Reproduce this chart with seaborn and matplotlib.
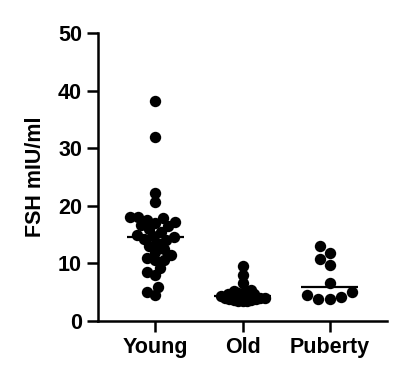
import matplotlib
matplotlib.use("Agg")
import matplotlib.pyplot as plt
import seaborn as sns
import pandas as pd
import numpy as np

# FSH values
groups = ["Young", "Old", "Puberty"]
young = [38.2, 32.0, 22.2, 20.6, 18.0, 18.0, 17.8, 17.5, 17.2, 17.0, 16.6,
         16.4, 16.0, 15.5, 15.0, 14.8, 14.5, 14.2, 14.0, 13.5, 13.0, 12.5,
         12.0, 11.5, 11.0, 10.6, 10.5, 9.2, 8.5, 8.0, 5.9, 5.0, 4.5]
old = [9.5, 8.0, 6.6, 5.3, 5.2, 5.0, 4.9, 4.8, 4.7, 4.6, 4.5, 4.4, 4.3,
       4.2, 4.2, 4.1, 4.0, 4.0, 3.9, 3.8, 3.8, 3.7, 3.6, 3.5, 3.5, 3.4]
puberty = [13.0, 11.8, 10.8, 9.7, 6.6, 5.0, 4.5, 4.2, 3.8, 3.8]
yticks = [0, 10, 20, 30, 40, 50]

df = pd.DataFrame({
    "group": ["Young"] * len(young) + ["Old"] * len(old) + ["Puberty"] * len(puberty),
    "fsh": young + old + puberty,
})

sns.set_style("ticks")
plt.rcParams["font.family"] = ["Liberation Sans", "DejaVu Sans"]
plt.rcParams["font.weight"] = "bold"
plt.rcParams["text.color"] = "black"
plt.rcParams["axes.labelcolor"] = "black"
plt.rcParams["xtick.color"] = "black"
plt.rcParams["ytick.color"] = "black"

fig = plt.figure(figsize=(4.10, 3.88), dpi=100)
ax = fig.add_axes([0.239, 0.173, 0.705, 0.742])

# lay out each swarm with its own marker size, then draw bigger dots
layout_size = {"Young": 6.0, "Old": 3.1, "Puberty": 8.0}
for g in groups:
    sns.swarmplot(data=df[df["group"] == g], x="group", y="fsh", order=groups,
                  color="black", size=layout_size[g], linewidth=0, ax=ax,
                  warn_thresh=1.0)
ax.set_xlim(-0.66, 2.66)
ax.set_ylim(0, 50)
fig.canvas.draw()
for coll in list(ax.collections):
    pts = coll.get_offsets()
    coll.remove()
    ax.scatter(pts[:, 0], pts[:, 1], s=8.2 ** 2, color="black", linewidths=0, zorder=3)

# median lines (behind the dots)
meds = df.groupby("group")["fsh"].median()
for i, g in enumerate(groups):
    ax.hlines(meds[g], i - 0.33, i + 0.33, color="black", lw=1.6, zorder=2)

ax.set_xlim(-0.66, 2.66)
ax.set_ylim(0, 50)
ax.set_yticks(yticks)
ax.set_xlabel("")
ax.set_ylabel("FSH mIU/ml", fontsize=15.5, fontweight="bold", labelpad=9)
ax.tick_params(axis="both", labelsize=15.5, width=1.8, length=8, color="black",
               labelcolor="black")
for lab in ax.get_xticklabels() + ax.get_yticklabels():
    lab.set_fontweight("bold")
sns.despine(ax=ax)
for s in ["left", "bottom"]:
    ax.spines[s].set_linewidth(1.8)
    ax.spines[s].set_color("black")

fig.savefig("out.png", dpi=100)
